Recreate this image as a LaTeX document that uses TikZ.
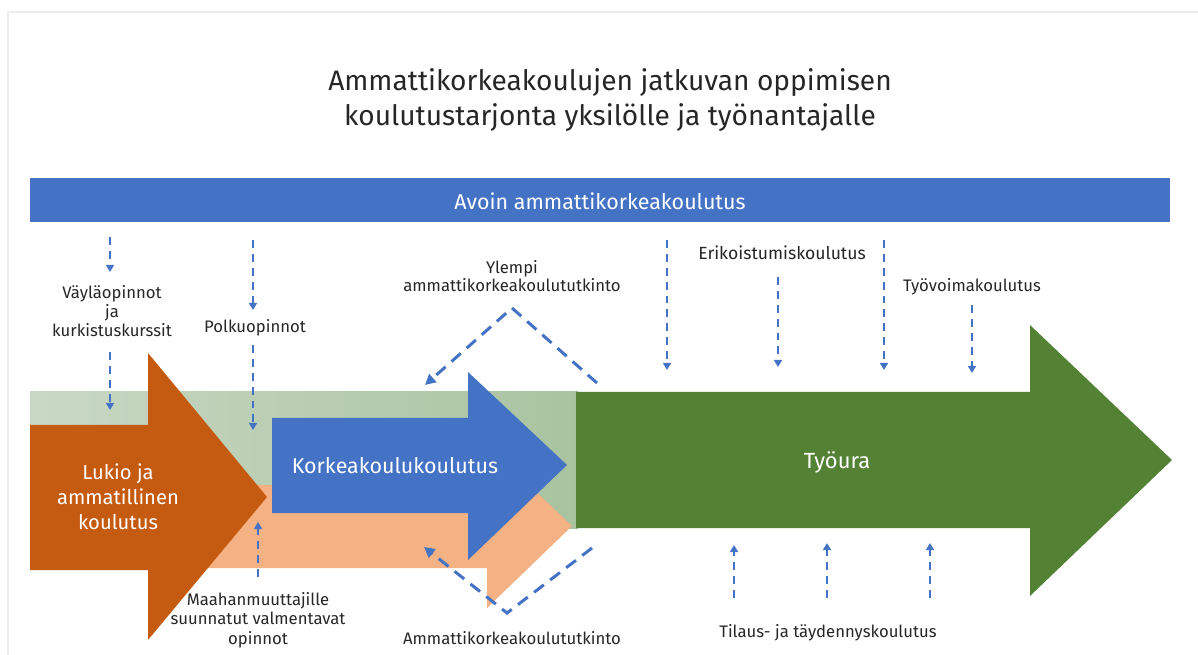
\documentclass[tikz,border=0pt]{standalone}
\usepackage{fontspec}
\setmainfont{Fira Sans}
\usetikzlibrary{arrows.meta}

\definecolor{amkorange}{HTML}{C55A11}
\definecolor{amkpeach}{HTML}{F4B183}
\definecolor{amkblue}{HTML}{4472C4}
\definecolor{amkgreen}{HTML}{548235}
\definecolor{bandleft}{HTML}{C9D8C4}
\definecolor{bandright}{HTML}{A9C3A0}
\definecolor{textgray}{HTML}{262626}
\definecolor{framegray}{HTML}{EDEDED}

\begin{document}
\begin{tikzpicture}[x=0.02cm,y=-0.02cm,
  lbl/.style={text=textgray, font=\fontsize{9.5}{11}\selectfont, align=center, inner sep=0pt},
  wlbl/.style={text=white, align=center, inner sep=0pt},
  flow/.style={draw=amkblue, line width=1.2pt, dash pattern=on 4.5pt off 3.4pt,
    -{Triangle[length=4pt,width=4.5pt]}},
  chevron/.style={draw=amkblue, line width=1.7pt, dash pattern=on 7pt off 4.5pt,
    -{Triangle[length=6pt,width=6pt]}}]
  \useasboundingbox (0,0) rectangle (1198,655);

  % Frame edges
  \draw[framegray, line width=1pt] (8,655) -- (8,12) -- (1198,12);

  % Title
  \node[text=textgray, align=center, inner sep=0pt,
    font=\fontsize{16}{19.5}\selectfont] (title) at (610,100)
    {Ammattikorkeakoulujen jatkuvan oppimisen\\koulutustarjonta yksilölle ja työnantajalle};

  % Banner
  \fill[amkblue] (30,178) rectangle (1170,222);
  \node[wlbl, font=\fontsize{12.2}{14}\selectfont] (avoin) at (600,201) {Avoin ammattikorkeakoulutus};

  % Background band and arrows
  \shade[left color=bandleft, right color=bandright] (30,392) rectangle (578,528);
  \fill[amkpeach] (140,485) -- (487,485) -- (487,445) -- (572,526) -- (487,608)
    -- (487,568) -- (140,568) -- cycle;
  \fill[amkorange] (30,425) -- (148,425) -- (148,353) -- (267,497) -- (148,640)
    -- (148,570) -- (30,570) -- cycle;
  \fill[amkblue] (272,418) -- (468,418) -- (468,372) -- (567,465) -- (468,560)
    -- (468,513) -- (272,513) -- cycle;
  \fill[amkgreen] (576,392) -- (1030,392) -- (1030,325) -- (1172,460) -- (1030,596)
    -- (1030,528) -- (576,528) -- cycle;

  \node[wlbl, font=\fontsize{11.5}{14.2}\selectfont] (lukio) at (118,497)
    {Lukio ja\\ammatillinen\\koulutus};
  \node[wlbl, font=\fontsize{12.2}{14}\selectfont] (korkea) at (395,466) {Korkeakoulukoulutus};
  \node[wlbl, font=\fontsize{12.5}{14}\selectfont] (tyoura) at (837,462) {Työura};

  % Labels
  \node[lbl] (vayla) at (112,311) {Väyläopinnot\\ja\\kurkistuskurssit};
  \node[lbl] (polku) at (255,328) {Polkuopinnot};
  \node[lbl, font=\fontsize{9.5}{10.4}\selectfont] (ylempi) at (512,276)
    {Ylempi\\ammattikorkeakoulututkinto};
  \node[lbl, font=\fontsize{10}{11}\selectfont] (erikois) at (782,253) {Erikoistumiskoulutus};
  \node[lbl] (tyovoima) at (972,287) {Työvoimakoulutus};
  \node[lbl] (maahan) at (258,620) {Maahanmuuttajille\\suunnatut valmentavat\\opinnot};
  \node[lbl] (amktutk) at (512,638) {Ammattikorkeakoulututkinto};
  \node[lbl] (tilaus) at (828,633) {Tilaus- ja täydennyskoulutus};

  % Dashed arrows
  \foreach \n/\x/\a/\b in {a/110/237/272, b/110/352/410, c/253/240/310, d/253/345/430,
      e/667/240/370, f/778/277/367, g/884/240/370, h/972/305/373,
      i/734/598/545, j/827/598/543, k/930/598/543, l/258/577/522} {
    \coordinate (\n1) at (\x,\a);
    \coordinate (\n2) at (\x,\b);
    \draw[flow] (\n1) -- (\n2);
  }

  % Chevrons
  \coordinate (ytop1) at (597,383);
  \coordinate (ytop2) at (512,308);
  \coordinate (ytop3) at (425,385);
  \draw[chevron] (ytop1) -- (ytop2) -- (ytop3);
  \coordinate (abot1) at (592,548);
  \coordinate (abot2) at (507,613);
  \coordinate (abot3) at (424,547);
  \draw[chevron] (abot1) -- (abot2) -- (abot3);
\end{tikzpicture}
\end{document}
